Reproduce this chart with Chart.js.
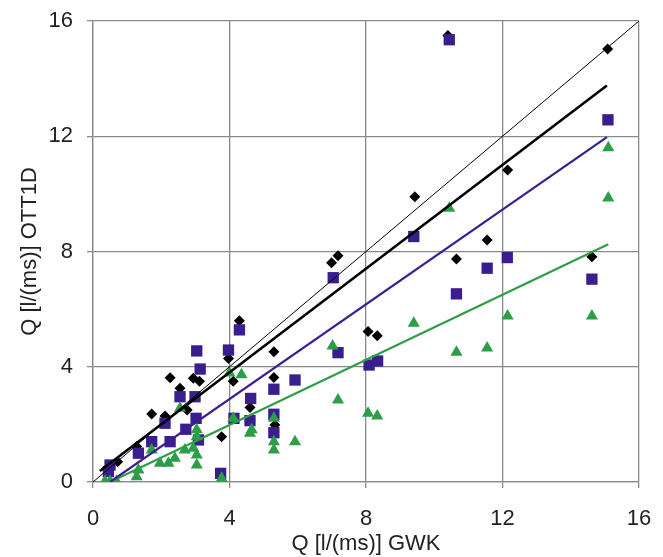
<!DOCTYPE html>
<html>
<head>
<meta charset="utf-8">
<script src="https://cdn.jsdelivr.net/npm/chart.js@4/dist/chart.umd.min.js"></script>
<style>
  html, body { margin: 0; padding: 0; background: #fff; }
  #box { width: 663px; height: 557px; }
</style>
</head>
<body>
<div id="box"><canvas id="grafico"></canvas></div>
<script>
// black diamonds
const gwkPreto = [0.4, 0.72, 1.28, 1.72, 2.11, 2.26, 2.55, 2.76, 2.94, 3.12, 3.77, 3.97, 4.11, 4.29, 4.6, 5.3, 5.3, 5.33, 6.99, 7.18, 8.06, 8.33, 9.43, 10.4, 10.65, 11.55, 12.15, 14.62, 15.08];
const ottPreto = [0.45, 0.7, 1.23, 2.36, 2.29, 3.62, 3.25, 2.5, 3.6, 3.5, 1.57, 4.29, 3.5, 5.6, 2.59, 4.52, 3.63, 1.98, 7.61, 7.85, 5.22, 5.08, 9.9, 15.5, 7.74, 8.4, 10.83, 7.82, 15.03];

// purple squares
const gwkRoxo = [0.45, 0.5, 1.33, 1.72, 2.11, 2.26, 2.55, 2.72, 2.99, 3.02, 3.04, 3.14, 3.09, 3.74, 3.97, 4.13, 4.29, 4.62, 4.6, 5.3, 5.3, 5.3, 5.92, 7.04, 7.18, 8.09, 8.34, 9.4, 10.44, 10.65, 11.55, 12.14, 14.62, 15.09];
const ottRoxo = [0.36, 0.59, 1.0, 1.4, 2.04, 1.4, 2.96, 1.83, 2.96, 2.21, 4.55, 3.92, 1.46, 0.3, 4.58, 2.21, 5.28, 2.9, 2.13, 3.22, 2.35, 1.71, 3.54, 7.09, 4.49, 4.06, 4.2, 8.52, 15.35, 6.53, 7.42, 7.79, 7.04, 12.57];

// green triangles
const gwkVerde = [0.35, 0.5, 0.69, 1.28, 1.33, 1.72, 1.96, 2.21, 2.4, 2.55, 2.69, 2.94, 3.04, 3.04, 3.04, 3.04, 3.77, 4.0, 4.35, 4.11, 4.65, 4.6, 5.3, 5.3, 5.3, 5.92, 7.02, 7.18, 8.06, 8.33, 9.4, 10.44, 10.65, 11.55, 12.15, 14.62, 15.1, 15.1];
const ottVerde = [0.02, 0.02, 0.02, 0.18, 0.42, 1.11, 0.65, 0.65, 0.82, 2.56, 1.11, 1.17, 1.81, 1.57, 0.94, 0.59, 0.13, 3.78, 3.72, 2.21, 1.81, 1.69, 2.21, 1.4, 1.11, 1.4, 4.72, 2.85, 2.39, 2.29, 5.51, 9.5, 4.5, 4.65, 5.76, 5.76, 9.86, 11.6];

// trend lines (end points)
const linha11X = [0, 16];
const linha11Y = [0, 16];
const tendPretoX = [0.2, 15.06];
const tendPretoY = [0.38, 13.76];
const tendRoxoX = [0.5, 15.06];
const tendRoxoY = [0, 11.97];
const tendVerdeX = [0.5, 15.1];
const tendVerdeY = [0, 8.25];

const eixoTicks = [0, 4, 8, 12, 16];

function pares(xs, ys) {
    return xs.map((x, i) => ({ x: x, y: ys[i] }));
}

const corRoxo = '#3b1e8e';
const corVerde = '#2d9e48';
const corTexto = '#222';
const corGrade = '#8a8a8a';
const fonte = { family: 'Liberation Sans', size: 22 };

new Chart(document.getElementById('grafico'), {
    type: 'scatter',
    data: {
        datasets: [
            { data: pares(linha11X, linha11Y), showLine: true, borderColor: '#000', borderWidth: 1, pointRadius: 0, order: 1 },
            { data: pares(tendPretoX, tendPretoY), showLine: true, borderColor: '#000', borderWidth: 2.6, pointRadius: 0, order: 1 },
            { data: pares(tendRoxoX, tendRoxoY), showLine: true, borderColor: corRoxo, borderWidth: 2.2, pointRadius: 0, order: 1 },
            { data: pares(tendVerdeX, tendVerdeY), showLine: true, borderColor: corVerde, borderWidth: 2.2, pointRadius: 0, order: 1 },
            { data: pares(gwkVerde, ottVerde), pointStyle: 'triangle', pointRadius: 7, backgroundColor: corVerde, borderColor: corVerde, borderWidth: 0, order: 2 },
            { data: pares(gwkRoxo, ottRoxo), pointStyle: 'rect', pointRadius: 8, backgroundColor: corRoxo, borderColor: corRoxo, borderWidth: 0, order: 3 },
            { data: pares(gwkPreto, ottPreto), pointStyle: 'rectRot', pointRadius: 5.5, backgroundColor: '#000', borderColor: '#000', borderWidth: 0, order: 4 }
        ]
    },
    options: {
        responsive: true,
        maintainAspectRatio: false,
        animation: false,
        layout: { padding: { left: 0, right: 24, top: 21, bottom: 0 } },
        plugins: { legend: { display: false }, tooltip: { enabled: false } },
        scales: {
            x: {
                type: 'linear', min: 0, max: 16,
                afterBuildTicks: s => { s.ticks = eixoTicks.map(v => ({ value: v })); },
                afterFit: s => { s.height = 75; s.paddingLeft = 0; s.paddingRight = 0; },
                grid: { color: corGrade, lineWidth: 1.3, tickLength: 6, drawTicks: true },
                border: { color: corGrade, width: 1.3 },
                ticks: { color: corTexto, font: fonte, padding: 18, maxRotation: 0 },
                title: { display: true, text: 'Q [l/(ms)] GWK', color: corTexto, font: fonte, padding: { top: 0, bottom: 0 } }
            },
            y: {
                type: 'linear', min: 0, max: 16,
                afterBuildTicks: s => { s.ticks = eixoTicks.map(v => ({ value: v })); },
                afterFit: s => { s.width = 93; s.paddingTop = 0; s.paddingBottom = 0; },
                grid: { color: corGrade, lineWidth: 1.3, tickLength: 6, drawTicks: true },
                border: { color: corGrade, width: 1.3 },
                ticks: { color: corTexto, font: fonte, padding: 14 },
                title: { display: true, text: 'Q [l/(ms)] OTT1D', color: corTexto, font: fonte, padding: { top: 17, bottom: 0 } }
            }
        }
    }
});
</script>
</body>
</html>
